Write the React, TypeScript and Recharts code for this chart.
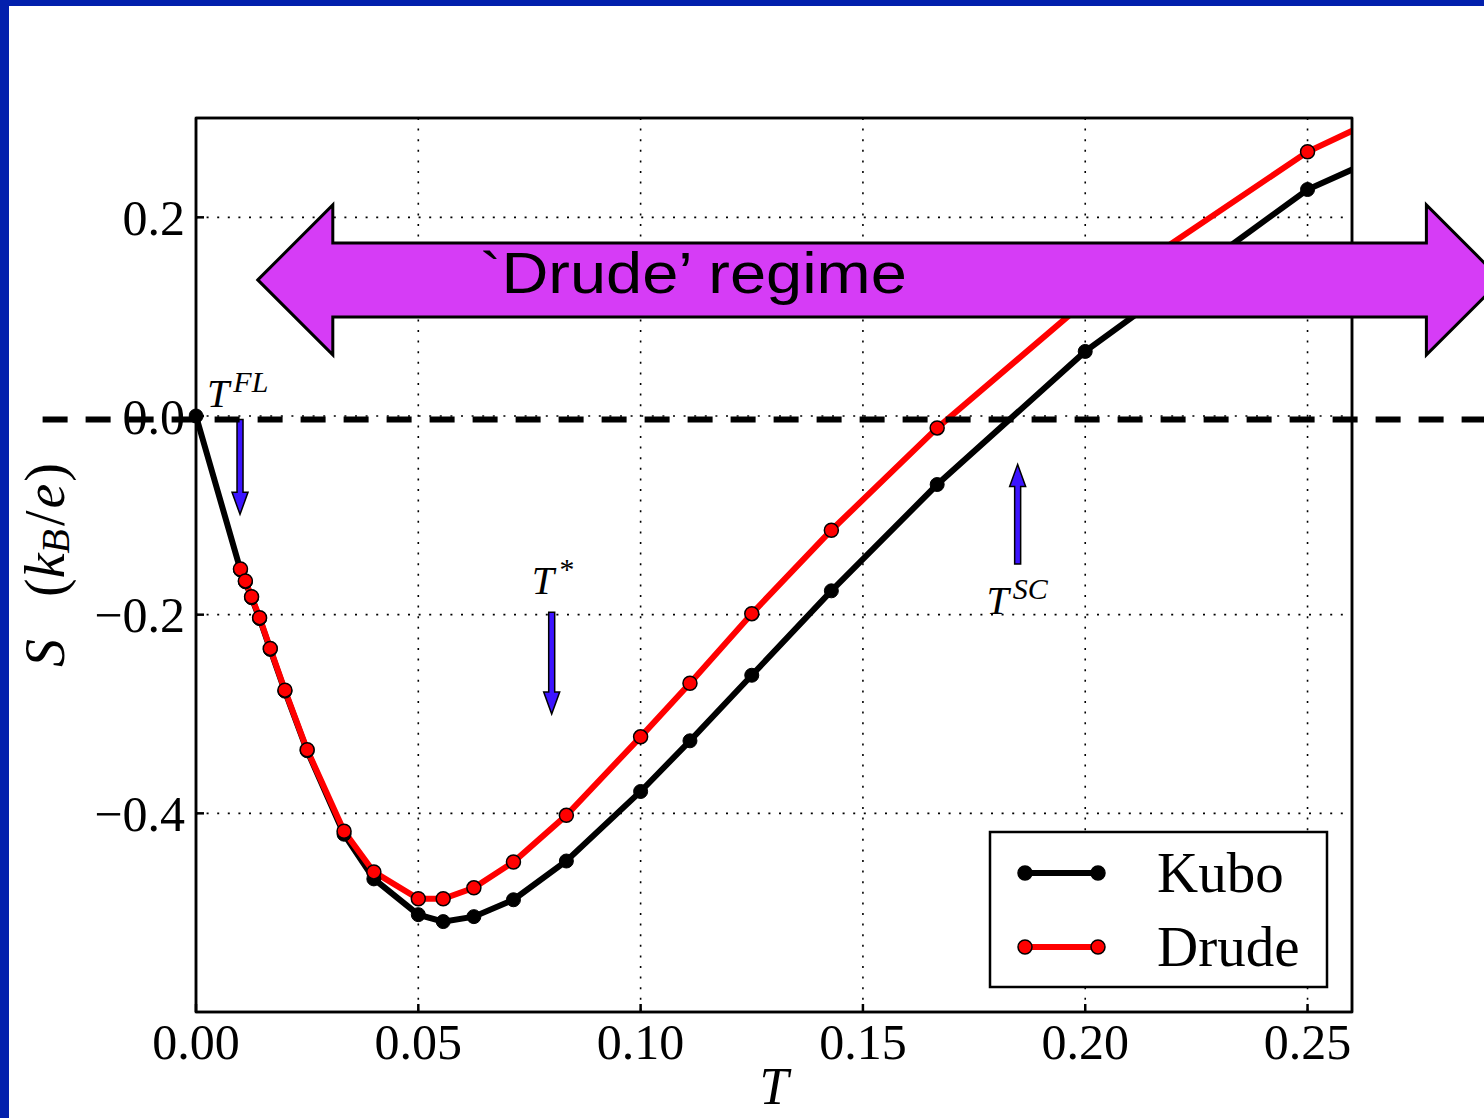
import { LineChart, Line, XAxis, YAxis, CartesianGrid, ReferenceLine, ReferenceDot, ReferenceArea } from "recharts";

// temperatures (1/beta) and thermopower
const kuboT = [0, 0.01, 0.0111, 0.0125, 0.0143, 0.0167, 0.02, 0.025, 0.0333, 0.04, 0.05, 0.0556, 0.0625, 0.0714, 0.0833, 0.1, 0.1111, 0.125, 0.1429, 0.1667, 0.2, 0.25, 0.3333];
const kuboS = [0, -0.155, -0.167, -0.183, -0.204, -0.235, -0.277, -0.337, -0.421, -0.466, -0.502, -0.509, -0.504, -0.487, -0.448, -0.378, -0.327, -0.261, -0.176, -0.069, 0.065, 0.228, 0.395];

const drudeT = [0.01, 0.0111, 0.0125, 0.0143, 0.0167, 0.02, 0.025, 0.0333, 0.04, 0.05, 0.0556, 0.0625, 0.0714, 0.0833, 0.1, 0.1111, 0.125, 0.1429, 0.1667, 0.2, 0.25, 0.3333];
const drudeS = [-0.154, -0.166, -0.182, -0.203, -0.234, -0.276, -0.336, -0.418, -0.459, -0.486, -0.486, -0.475, -0.449, -0.402, -0.323, -0.269, -0.199, -0.115, -0.012, 0.115, 0.266, 0.441];

const xTicks = [0, 0.05, 0.1, 0.15, 0.2, 0.25];
const yTicks = [-0.4, -0.2, 0, 0.2];
const xDomain = [0, 0.26];
const yDomain = [-0.6, 0.3];

// slide overlays, in data units
const zeroLineS = -0.0035;
const zeroLineFrom = -0.0345;
const zeroLineTo = 0.3;
const regimeFrom = 0.0139;
const regimeTo = 0.2936;
const regimeS = 0.137;
const regimeText = "`Drude’ regime";

const markerArrows = [
  { T: 0.0099, from: -0.0035, to: -0.099 },
  { T: 0.08, from: -0.1975, to: -0.3 },
  { T: 0.1848, from: -0.149, to: -0.0487 },
];
const markerLabels = [
  { T: 0.0025, S: 0.0095, sup: "FL" },
  { T: 0.0755, S: -0.1794, sup: "*" },
  { T: 0.1778, S: -0.1995, sup: "SC" },
];

const series = [
  { name: "Kubo", color: "#000000", edge: "#000000" },
  { name: "Drude", color: "#ff0000", edge: "#000000" },
];

const kuboData = kuboT.map((T, i) => ({ T, S: kuboS[i] }));
const drudeData = drudeT.map((T, i) => ({ T, S: drudeS[i] }));

const serif = "'Liberation Serif', 'Times New Roman', serif";

const fmtY = (v: number) => (v < 0 ? "\u2212" : "") + Math.abs(v).toFixed(1);

const BlueArrow = (props: any) => {
  const { x1, y1, y2 } = props;
  const dir = y2 > y1 ? 1 : -1;
  const head = 22;
  const hw = 8;
  const sw = 3;
  const yb = y2 - dir * head;
  const pts = [
    [x1 - sw, y1], [x1 + sw, y1], [x1 + sw, yb], [x1 + hw, yb],
    [x1, y2], [x1 - hw, yb], [x1 - sw, yb],
  ];
  return <polygon points={pts.map((p) => p.join(",")).join(" ")} fill="#3c14ff" stroke="#000" strokeWidth={1.5} />;
};

const RegimeArrow = (props: any) => {
  const { x1, x2, y1 } = props;
  const cy = y1;
  const hl = 75;
  const hh = 75;
  const sh = 37;
  const pts = [
    [x1, cy], [x1 + hl, cy - hh], [x1 + hl, cy - sh], [x2 - hl, cy - sh], [x2 - hl, cy - hh],
    [x2, cy], [x2 - hl, cy + hh], [x2 - hl, cy + sh], [x1 + hl, cy + sh], [x1 + hl, cy + hh],
  ];
  return (
    <g>
      <polygon points={pts.map((p) => p.join(",")).join(" ")} fill="#d63cf6" stroke="#000" strokeWidth={3} />
      <text
        x={x1 + 222}
        y={cy + 13}
        fontFamily="'Liberation Sans', Arial, sans-serif"
        fontSize={58}
        textLength={427}
        lengthAdjust="spacingAndGlyphs"
        fill="#000"
      >
        {regimeText}
      </text>
    </g>
  );
};

const makeLabel = (sup: string) => (props: any) => {
  const { cx, cy } = props;
  return (
    <text x={cx} y={cy} fontFamily={serif} fill="#000">
      <tspan fontStyle="italic" fontSize={40}>T</tspan>
      <tspan fontStyle="italic" fontSize={30} dx={4} dy={-15}>{sup}</tspan>
    </text>
  );
};

const YLabel = (props: any) => {
  const { viewBox } = props;
  const cx = viewBox.x + 39;
  const cy = viewBox.y + viewBox.height / 2;
  return (
    <text
      transform={`translate(${cx}, ${cy}) rotate(-90)`}
      textAnchor="middle"
      dominantBaseline="central"
      fontFamily={serif}
      fontSize={56}
      fill="#000"
    >
      <tspan fontStyle="italic">S</tspan>
      <tspan dx={42}>(</tspan>
      <tspan fontStyle="italic">k</tspan>
      <tspan fontStyle="italic" fontSize={40} dy={10}>B</tspan>
      <tspan dy={-10} dx={3}>/</tspan>
      <tspan fontStyle="italic" dx={2}>e</tspan>
      <tspan dx={2}>)</tspan>
    </text>
  );
};

const LegendBox = () => (
  <svg width={345} height={162} style={{ position: "absolute", left: 986, top: 828 }}>
    <rect x={4} y={4} width={337} height={155} fill="#fff" stroke="#000" strokeWidth={2.5} />
    {series.map((s, i) => {
      const y = 45 + i * 74;
      return (
        <g key={s.name}>
          <line x1={39} x2={112} y1={y} y2={y} stroke={s.color} strokeWidth={6} />
          <circle cx={39} cy={y} r={7} fill={s.color} stroke={s.edge} strokeWidth={1.5} />
          <circle cx={112} cy={y} r={7} fill={s.color} stroke={s.edge} strokeWidth={1.5} />
          <text x={171} y={y + 19} fontFamily={serif} fontSize={57} fill="#000">{s.name}</text>
        </g>
      );
    })}
  </svg>
);

const App = () => {
  return (
    <div style={{ position: "absolute", left: 0, top: 0, width: 1484, height: 1118, background: "#fff", overflow: "hidden" }}>
      <LineChart width={1484} height={1118} margin={{ top: 117, right: 131, bottom: 6, left: 6 }}>
        <CartesianGrid stroke="#000" strokeWidth={1.6} strokeDasharray="2 8.6" />
        <XAxis
          dataKey="T"
          type="number"
          domain={xDomain}
          ticks={xTicks}
          allowDataOverflow
          height={100}
          stroke="#000"
          strokeWidth={2.5}
          tickSize={-8}
          tickMargin={19}
          tickFormatter={(v: number) => v.toFixed(2)}
          tick={{ fill: "#000", fontSize: 50, fontFamily: serif }}
          label={{ value: "T", position: "insideBottom", offset: 8, style: { fontStyle: "italic", fontSize: 52, fontFamily: serif, fill: "#000" } }}
        />
        <XAxis
          xAxisId="top"
          orientation="top"
          type="number"
          domain={xDomain}
          ticks={xTicks}
          allowDataOverflow
          height={1}
          stroke="#000"
          strokeWidth={2.5}
          tickSize={-8}
          tick={false}
        />
        <YAxis
          type="number"
          domain={yDomain}
          ticks={yTicks}
          allowDataOverflow
          width={190}
          stroke="#000"
          strokeWidth={2.5}
          tickSize={-8}
          tickMargin={19}
          tickFormatter={fmtY}
          tick={{ fill: "#000", fontSize: 50, fontFamily: serif }}
          label={<YLabel />}
        />
        <YAxis
          yAxisId="right"
          orientation="right"
          type="number"
          domain={yDomain}
          ticks={yTicks}
          allowDataOverflow
          width={1}
          stroke="#000"
          strokeWidth={2.5}
          tickSize={-8}
          tick={false}
        />
        <ReferenceArea
          x1={xDomain[0]}
          x2={xDomain[1]}
          y1={yDomain[0]}
          y2={yDomain[1]}
          fill="none"
          fillOpacity={0}
          stroke="#000"
          strokeWidth={2.5}
          ifOverflow="visible"
        />
        <Line
          data={kuboData}
          dataKey="S"
          name="Kubo"
          stroke="#000"
          strokeWidth={6}
          dot={{ r: 7, fill: "#000", stroke: "#000", strokeWidth: 1, clipDot: false }}
          isAnimationActive={false}
        />
        <Line
          data={drudeData}
          dataKey="S"
          name="Drude"
          stroke="#ff0000"
          strokeWidth={6}
          dot={{ r: 7, fill: "#ff0000", stroke: "#000", strokeWidth: 1.5, clipDot: false }}
          isAnimationActive={false}
        />
        {markerArrows.map((a, i) => (
          <ReferenceLine
            key={"arrow" + i}
            segment={[{ x: a.T, y: a.from }, { x: a.T, y: a.to }]}
            ifOverflow="visible"
            shape={BlueArrow}
            zIndex={1000}
          />
        ))}
        {markerLabels.map((l, i) => (
          <ReferenceDot
            key={"label" + i}
            x={l.T}
            y={l.S}
            r={1}
            ifOverflow="visible"
            shape={makeLabel(l.sup)}
            zIndex={1000}
          />
        ))}
        <ReferenceLine
          segment={[{ x: zeroLineFrom, y: zeroLineS }, { x: zeroLineTo, y: zeroLineS }]}
          ifOverflow="visible"
          stroke="#000"
          strokeWidth={6}
          strokeDasharray="25 18"
          zIndex={1000}
        />
        <ReferenceLine
          segment={[{ x: regimeFrom, y: regimeS }, { x: regimeTo, y: regimeS }]}
          ifOverflow="visible"
          shape={RegimeArrow}
          zIndex={1000}
        />
      </LineChart>
      <LegendBox />
      <div style={{ position: "absolute", left: 0, top: 0, width: 1484, height: 6, background: "#0220ad" }} />
      <div style={{ position: "absolute", left: 0, top: 0, width: 9, height: 1118, background: "#0220ad" }} />
    </div>
  );
};

export default App;
